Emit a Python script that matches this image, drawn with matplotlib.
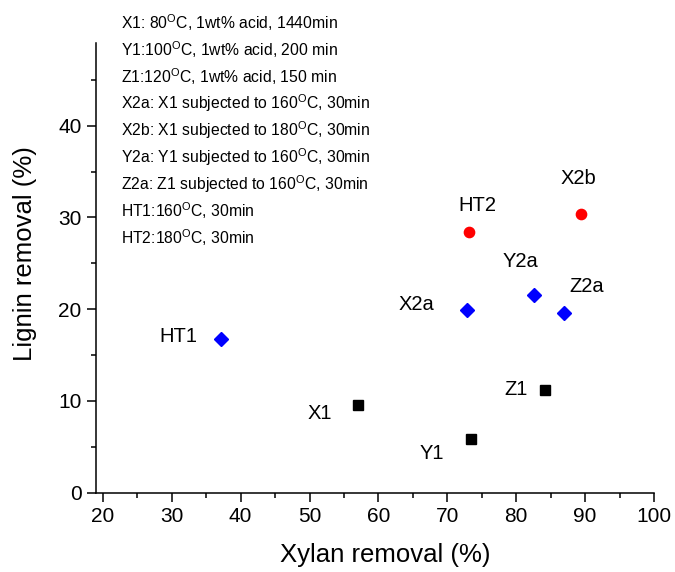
import matplotlib
matplotlib.use('Agg')
import matplotlib.pyplot as plt
from matplotlib.ticker import MultipleLocator

plt.rcParams['font.family'] = ['Liberation Sans', 'DejaVu Sans']
plt.rcParams['mathtext.fontset'] = 'custom'
plt.rcParams['mathtext.rm'] = 'Liberation Sans'

# before HT: dilute acid pretreatment (black squares)
acid_names = ['X1', 'Y1', 'Z1']
acid_xylan = [57.0, 73.5, 84.2]
acid_lignin = [9.6, 5.9, 11.2]

# 160 C hydrothermal (blue diamonds)
ht160_names = ['HT1', 'X2a', 'Y2a', 'Z2a']
ht160_xylan = [37.1, 72.9, 82.6, 87.0]
ht160_lignin = [16.8, 19.9, 21.5, 19.6]

# 180 C hydrothermal (red circles)
ht180_names = ['HT2', 'X2b']
ht180_xylan = [73.1, 89.4]
ht180_lignin = [28.4, 30.4]

# label offsets in pixels (dx, dy)
label_offsets = {
    'X1': (-38, -9), 'Y1': (-40, -15), 'Z1': (-29, 0),
    'HT1': (-42, 2), 'X2a': (-51, 6), 'Y2a': (-14, 34), 'Z2a': (22, 26),
    'HT2': (9, 27), 'X2b': (-3, 35),
}

notes = [
    'X1: 80$^{\\rm O}$C, 1wt% acid, 1440min',
    'Y1:100$^{\\rm O}$C, 1wt% acid, 200 min',
    'Z1:120$^{\\rm O}$C, 1wt% acid, 150 min',
    'X2a: X1 subjected to 160$^{\\rm O}$C, 30min',
    'X2b: X1 subjected to 180$^{\\rm O}$C, 30min',
    'Y2a: Y1 subjected to 160$^{\\rm O}$C, 30min',
    'Z2a: Z1 subjected to 160$^{\\rm O}$C, 30min',
    'HT1:160$^{\\rm O}$C, 30min',
    'HT2:180$^{\\rm O}$C, 30min',
]

fig = plt.figure(figsize=(6.75, 5.72), dpi=100)
ax = fig.add_axes([0.1422, 0.1386, 0.9689 - 0.1422, 0.9248 - 0.1386])

ax.plot(acid_xylan, acid_lignin, 's', color='black', ms=6.7, ls='none')
ax.plot(ht160_xylan, ht160_lignin, 'D', color='#0000FF', ms=7.2, ls='none')
ax.plot(ht180_xylan, ht180_lignin, 'o', color='#FF0000', ms=7.4, ls='none')

for names, xs, ys in [(acid_names, acid_xylan, acid_lignin),
                      (ht160_names, ht160_xylan, ht160_lignin),
                      (ht180_names, ht180_xylan, ht180_lignin)]:
    for n, x, y in zip(names, xs, ys):
        ax.annotate(n, (x, y), xytext=label_offsets[n], textcoords='offset pixels',
                    ha='center', va='center', fontsize=14.5)

ax.set_xlim(19, 100)
ax.set_ylim(0, 49)
ax.xaxis.set_minor_locator(MultipleLocator(5))
ax.yaxis.set_minor_locator(MultipleLocator(5))
ax.set_xticks(range(20, 101, 10))
ax.set_yticks(range(0, 41, 10))

ax.spines['top'].set_visible(False)
ax.spines['right'].set_visible(False)
for s in ['left', 'bottom']:
    ax.spines[s].set_linewidth(1.1)
ax.tick_params(which='major', direction='out', length=6.5, width=1.1, labelsize=15, pad=4)
ax.tick_params(which='minor', direction='out', length=3.5, width=1.1)

ax.set_xlabel('Xylan removal (%)', fontsize=18.5)
ax.set_ylabel('Lignin removal (%)', fontsize=18.5)
ax.xaxis.set_label_coords(0.518, -0.112)
ax.yaxis.set_label_coords(-0.106, 0.531)

for i, t in enumerate(notes):
    fig.text(121 / 675, 1 - (23 + 26.8 * i) / 572, t, fontsize=11.3, ha='left', va='center')

fig.savefig('out.png', dpi=100)
